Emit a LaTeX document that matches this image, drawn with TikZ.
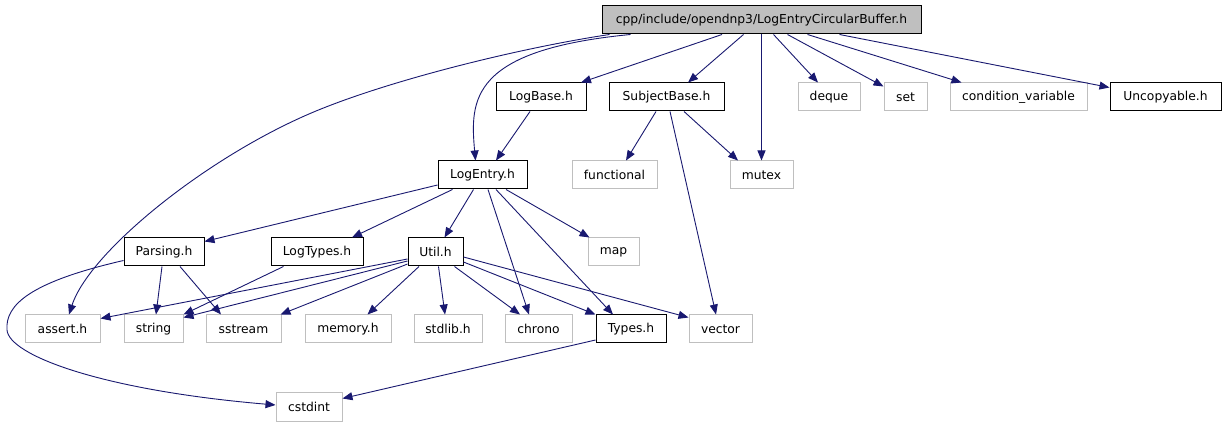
\documentclass[tikz,border=0pt]{standalone}
\usepackage{fontspec}
\setmainfont{DejaVu Sans}
\usetikzlibrary{arrows.meta}
\definecolor{edgeblue}{HTML}{191970}
\definecolor{boxgray}{HTML}{BFBFBF}
\begin{document}
\begin{tikzpicture}[x=1pt,y=-1pt,
  box/.style={draw=black,line width=1pt,minimum height=28pt,inner sep=0pt,font=\fontsize{12.3}{14}\selectfont},
  ext/.style={box,draw=boxgray},
  rootbox/.style={box,fill=boxgray},
  dep/.style={draw=edgeblue,line width=0.9pt,-{Triangle[length=10pt,width=8pt,fill=edgeblue]}}]
\fill[white] (0,0) rectangle (1226,427);
\useasboundingbox (0,0) rectangle (1226,427);
% nodes
\node[rootbox,minimum width=319pt] (root) at (761.5,20) {cpp/include/opendnp3/LogEntryCircularBuffer.h};
\node[box,minimum width=90pt] (logbase) at (541,97) {LogBase.h};
\node[box,minimum width=115pt] (subject) at (666.5,97) {SubjectBase.h};
\node[ext,minimum width=62pt] (deque) at (829,97) {deque};
\node[ext,minimum width=43pt] (set) at (905.5,97) {set};
\node[ext,minimum width=137pt] (cond) at (1018.5,97) {condition\_variable};
\node[box,minimum width=111pt] (uncop) at (1165.5,97) {Uncopyable.h};
\node[box,minimum width=89pt] (logentry) at (482.5,175) {LogEntry.h};
\node[ext,minimum width=85pt] (functional) at (614.5,175) {functional};
\node[ext,minimum width=63pt] (mutex) at (761.5,175) {mutex};
\node[box,minimum width=80pt] (parsing) at (164,252) {Parsing.h};
\node[box,minimum width=92pt] (logtypes) at (317,252) {LogTypes.h};
\node[box,minimum width=55pt] (util) at (435.5,252) {Util.h};
\node[ext,minimum width=51pt] (map) at (613.5,252) {map};
\node[ext,minimum width=75pt] (assert) at (62.5,329) {assert.h};
\node[ext,minimum width=59pt] (string) at (153.5,329) {string};
\node[ext,minimum width=75pt] (sstream) at (243.5,329) {sstream};
\node[ext,minimum width=86pt] (memory) at (348,329) {memory.h};
\node[ext,minimum width=68pt] (stdlib) at (448,329) {stdlib.h};
\node[ext,minimum width=67pt] (chrono) at (538.5,329) {chrono};
\node[box,minimum width=70pt] (types) at (631,329) {Types.h};
\node[ext,minimum width=63pt] (vector) at (720.5,329) {vector};
\node[ext,minimum width=66pt] (cstdint) at (309,407) {cstdint};
% edges from root
\draw[dep] ([xshift=-152pt]root.south) .. controls (520,48) and (400,78) .. (326,107) .. controls (215,150) and (90,250) .. ([xshift=6.5pt]assert.north);
\draw[dep] ([xshift=-131pt]root.south) .. controls (470,50) and (470,100) .. ([xshift=-7pt]logentry.north);
\draw[dep] ([xshift=-39.5pt]root.south) -- ([xshift=40pt]logbase.north);
\draw[dep] ([xshift=-18pt]root.south) -- ([xshift=21.5pt]subject.north);
\draw[dep] (root.south) -- (mutex.north);
\draw[dep] ([xshift=12pt]root.south) -- ([xshift=-11pt]deque.north);
\draw[dep] ([xshift=26pt]root.south) -- ([yshift=-4pt]set.north west);
\draw[dep] ([xshift=46pt]root.south) -- ([xshift=-57pt]cond.north);
\draw[dep] ([xshift=78pt]root.south) -- ([yshift=-5pt]uncop.north west);
% LogBase, SubjectBase
\draw[dep] ([xshift=-11pt]logbase.south) -- ([xshift=13.5pt]logentry.north);
\draw[dep] ([xshift=-10.5pt]subject.south) -- ([xshift=11.5pt]functional.north);
\draw[dep] ([xshift=17.5pt]subject.south) -- ([xshift=-23.5pt]mutex.north);
\draw[dep] ([xshift=3.5pt]subject.south) -- ([xshift=-4.5pt]vector.north);
% LogEntry
\draw[dep] ([yshift=-10pt]logentry.west) -- ([yshift=-4pt]parsing.north east);
\draw[dep] ([xshift=-30pt]logentry.south) -- ([xshift=35pt]logtypes.north);
\draw[dep] ([xshift=-9pt]logentry.south) -- ([xshift=9pt]util.north);
\draw[dep] ([xshift=5.5pt]logentry.south) -- ([xshift=-9.5pt]chrono.north);
\draw[dep] ([xshift=13.5pt]logentry.south) -- ([xshift=-18pt]types.north);
\draw[dep] ([xshift=23.5pt]logentry.south) -- ([xshift=2pt]map.north west);
% Parsing
\draw[dep] ([xshift=-2pt]parsing.south) -- ([xshift=2.5pt]string.north);
\draw[dep] ([xshift=16pt]parsing.south) -- ([xshift=-22.5pt]sstream.north);
\draw[dep] ([yshift=6pt]parsing.south west) .. controls (30,282) and (5,305) .. (7,330) .. controls (9,355) and (100,390) .. ([yshift=2pt]cstdint.west);
% LogTypes
\draw[dep] ([xshift=13pt]logtypes.south west) -- (string.north east);
% Util
\draw[dep] ([yshift=-7pt]util.west) -- ([yshift=-4pt]assert.north east);
\draw[dep] ([yshift=-9pt]util.west) -- ([yshift=-3pt]string.north east);
\draw[dep] ([yshift=-12pt]util.west) -- ([xshift=-1pt]sstream.north east);
\draw[dep] ([xshift=-16.5pt]util.south) -- ([xshift=19.5pt]memory.north);
\draw[dep] ([xshift=3pt]util.south) -- ([xshift=-3pt]stdlib.north);
\draw[dep] ([xshift=19pt]util.south) -- ([xshift=-18.5pt]chrono.north);
\draw[dep] ([yshift=-10pt]util.east) -- (types.north west);
\draw[dep] ([yshift=-5pt]util.east) -- ([yshift=-3pt]vector.north west);
% Types
\draw[dep] ([yshift=-11pt]types.west) -- ([yshift=-6pt]cstdint.north east);
\end{tikzpicture}
\end{document}
